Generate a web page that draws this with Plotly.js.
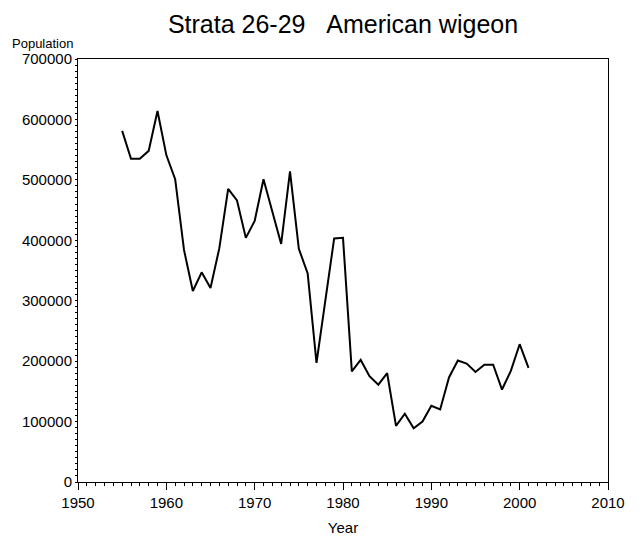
<!DOCTYPE html>
<html>
<head>
<meta charset="utf-8">
<script src="https://cdn.plot.ly/plotly-3.0.1.min.js"></script>
<style>
  body { margin: 0; background: #fff; }
  #chart { width: 639px; height: 539px; }
</style>
</head>
<body>
<div id="chart"></div>
<script>
  // survey years and population estimates
  var years = [1955, 1956, 1957, 1958, 1959, 1960, 1961, 1962, 1963, 1964,
               1965, 1966, 1967, 1968, 1969, 1970, 1971, 1972, 1973, 1974,
               1975, 1976, 1977, 1978, 1979, 1980, 1981, 1982, 1983, 1984,
               1985, 1986, 1987, 1988, 1989, 1990, 1991, 1992, 1993, 1994,
               1995, 1996, 1997, 1998, 1999, 2000, 2001];
  var population = [581000, 535000, 535000, 548000, 614000, 541000, 501000, 384000, 316000, 347000,
                    321000, 387000, 485000, 466000, 404000, 432000, 501000, 447000, 394000, 514000,
                    386000, 345000, 197000, 300000, 403000, 404000, 183000, 202000, 175000, 161000,
                    180000, 93000, 113000, 89000, 100000, 126000, 120000, 173000, 201000, 196000,
                    182000, 194000, 194000, 153000, 184000, 228000, 189000];

  var chartTitle = "Strata 26-29\u00a0\u00a0\u00a0American wigeon";
  var font = "Liberation Sans, Arial, sans-serif";

  var trace = {
    x: years,
    y: population,
    type: 'scatter',
    mode: 'lines',
    line: {color: 'black', width: 2},
    hoverinfo: 'x+y'
  };

  var layout = {
    width: 639,
    height: 539,
    margin: {l: 78, r: 31, t: 59, b: 57},
    paper_bgcolor: 'white',
    plot_bgcolor: 'white',
    showlegend: false,
    font: {family: font, size: 15, color: 'black'},
    title: {
      text: chartTitle,
      font: {family: font, size: 25, color: 'black'},
      x: 0.5, xref: 'paper', y: 0.955, yanchor: 'middle'
    },
    xaxis: {
      range: [1950, 2010],
      dtick: 10,
      tick0: 1950,
      ticks: 'outside',
      ticklen: 7,
      tickcolor: 'black',
      showline: true,
      linecolor: 'black',
      linewidth: 1,
      mirror: true,
      showgrid: false,
      zeroline: false,
      minor: {dtick: 1, ticks: 'outside', ticklen: 3, tickcolor: 'black', showgrid: false},
      title: {text: 'Year', font: {family: font, size: 15}, standoff: 12}
    },
    yaxis: {
      range: [0, 700000],
      dtick: 100000,
      tick0: 0,
      ticks: 'outside',
      ticklen: 2,
      tickcolor: 'black',
      tickformat: 'd',
      showline: true,
      linecolor: 'black',
      linewidth: 1,
      mirror: true,
      showgrid: false,
      zeroline: false,
      minor: {dtick: 10000, ticks: 'outside', ticklen: 2, tickcolor: 'black', showgrid: false}
    },
    annotations: [{
      text: 'Population',
      xref: 'paper', yref: 'paper',
      x: 0, y: 1,
      xanchor: 'right', yanchor: 'middle',
      xshift: -3, yshift: 16,
      showarrow: false,
      font: {family: font, size: 13, color: 'black'}
    }]
  };

  Plotly.newPlot('chart', [trace], layout, {staticPlot: true});
</script>
</body>
</html>
